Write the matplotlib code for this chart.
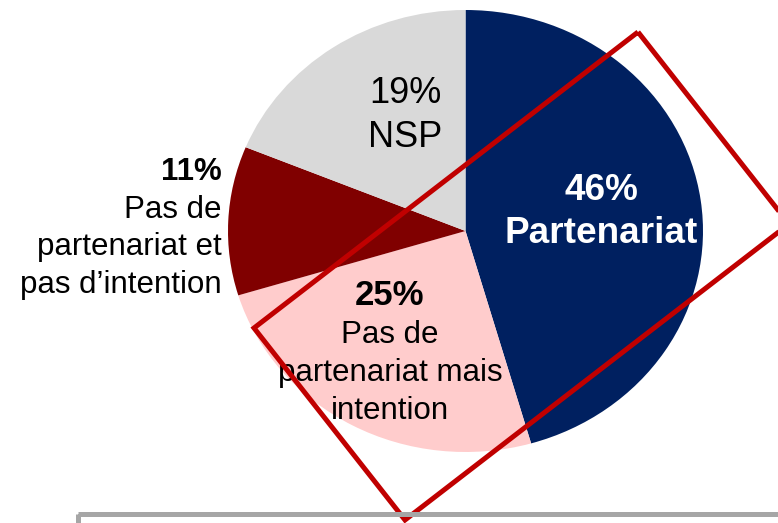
import matplotlib
matplotlib.use("Agg")
import matplotlib.pyplot as plt
from matplotlib.patches import Polygon, Rectangle

plt.rcParams["font.family"] = ["Liberation Sans", "DejaVu Sans"]

# data, clockwise from 12 o'clock
categories = ["Partenariat", "Pas de partenariat mais intention",
              "Pas de partenariat et pas d\u2019intention", "NSP"]
shares = [46, 25, 11, 19]
colors = ["#002060", "#FFCCCC", "#800000", "#D9D9D9"]

W, H = 778, 523
fig = plt.figure(figsize=(W / 100, H / 100), dpi=100)

# pie sits in its own axes, slightly wider than tall like in the source
pie_ax = fig.add_axes([228 / W, (H - 452) / H, 475 / W, 442 / H])
pie_ax.pie(shares, colors=colors, startangle=90, counterclock=False,
           radius=1, wedgeprops=dict(linewidth=0))
pie_ax.set_aspect("auto")
pie_ax.set_xlim(-1, 1)
pie_ax.set_ylim(-1, 1)
pie_ax.axis("off")

# overlay in pixel units for labels and shapes
ov = fig.add_axes([0, 0, 1, 1])
ov.set_xlim(0, W)
ov.set_ylim(H, 0)
ov.axis("off")


def label(x, y0, lines, size, step, ha="center", color="black",
          bold_first=False, bold_all=False, first_size=None):
    for i, txt in enumerate(lines):
        bold = bold_all or (bold_first and i == 0)
        fs = first_size if (i == 0 and first_size) else size
        ov.text(x, y0 + i * step, txt, ha=ha, va="baseline", color=color,
                fontsize=fs, fontweight="bold" if bold else "normal")


label(405, 103, ["19%", "NSP"], 26, 44)
label(601, 200, ["46%", "Partenariat"], 26.6, 43, color="white", bold_all=True)
label(390, 305, ["25%", "Pas de", "partenariat mais", "intention"], 22.5, 38,
      bold_first=True, first_size=25)
label(222, 180, ["11%", "Pas de", "partenariat et", "pas d\u2019intention"], 22.5, 37.5,
      ha="right", bold_first=True)

# red highlight frame
ov.add_patch(Polygon([(638, 32), (789, 224), (405, 520), (254, 328)], closed=True,
                     fill=False, edgecolor="#C00000", linewidth=3.6, zorder=3))

# grey box at the bottom
ov.add_patch(Rectangle((78, 514), 760, 60, fill=False, edgecolor="#A6A6A6",
                       linewidth=3.6, zorder=4))

fig.savefig("out.png", dpi=100)
